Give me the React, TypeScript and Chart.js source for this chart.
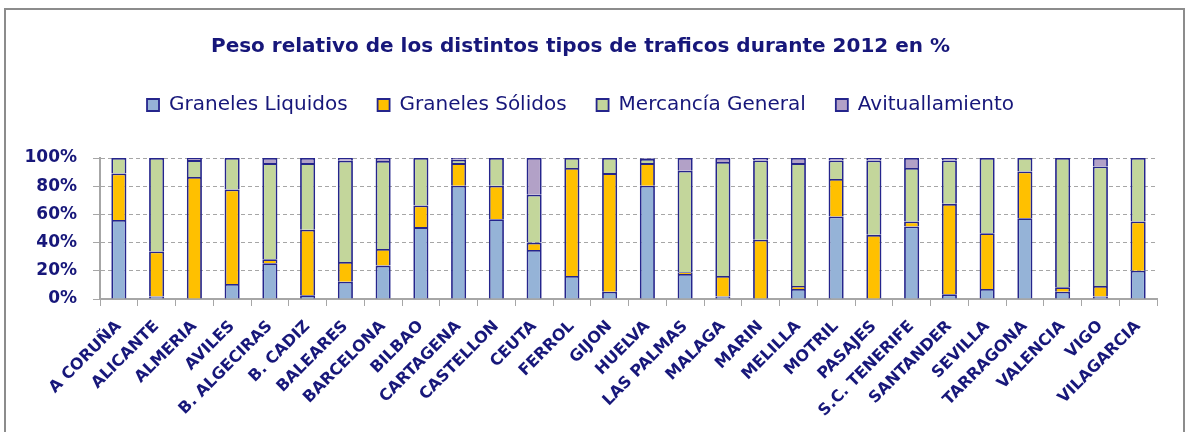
import React, { useEffect, useRef } from 'react';
import { Chart, registerables } from 'chart.js';

Chart.register(...registerables);

const categories = [
  'A CORUÑA', 'ALICANTE', 'ALMERIA', 'AVILES', 'B. ALGECIRAS', 'B. CADIZ', 'BALEARES',
  'BARCELONA', 'BILBAO', 'CARTAGENA', 'CASTELLON', 'CEUTA', 'FERROL', 'GIJON', 'HUELVA',
  'LAS PALMAS', 'MALAGA', 'MARIN', 'MELILLA', 'MOTRIL', 'PASAJES', 'S.C. TENERIFE',
  'SANTANDER', 'SEVILLA', 'TARRAGONA', 'VALENCIA', 'VIGO', 'VILAGARCIA',
];

const granelesLiquidos = [
  56, 1.7, 0, 10.7, 25.4, 2.6, 12.3, 23.7, 51, 80.3, 56.6, 34.8, 16.4, 5.2, 80.3,
  17.8, 1.7, 0, 7.1, 58.5, 0, 51.4, 3.3, 7.1, 57.3, 5.2, 1.7, 20.1,
];
const granelesSolidos = [
  33, 32, 86.5, 67, 2.8, 46.5, 14, 11.8, 15.4, 16.1, 23.7, 5.2, 76.5, 84.1, 16.1,
  1.2, 14.7, 42, 2.1, 26.6, 45.5, 3.6, 64.2, 39.6, 33.2, 3.1, 7.5, 34.9,
];
const mercanciaGeneral = [
  11, 66.3, 12, 22.3, 68.2, 47.3, 71.8, 62.4, 33.6, 2.4, 19.7, 33.9, 7.1, 10.7, 3.0,
  72, 80.8, 56.3, 87.2, 13.2, 52.8, 37.9, 30.8, 53.3, 9.5, 91.7, 84.8, 45,
];
const avituallamiento = [
  0, 0, 1.5, 0, 3.6, 3.6, 1.9, 2.1, 0, 1.2, 0, 26.1, 0, 0, 0.6,
  9, 2.8, 1.7, 3.6, 1.7, 1.7, 7.1, 1.7, 0, 0, 0, 6, 0,
];

const yTicks = [0, 20, 40, 60, 80, 100];

const NAVY = '#17177A';
const BAR_BORDER = '#25258C';
const GRID = '#A6A6A6';

export default function App() {
  const ref = useRef<HTMLCanvasElement>(null);

  useEffect(() => {
    document.body.style.margin = '0';
    const canvas = ref.current;
    if (!canvas) return;

    const frame = {
      id: 'frame',
      beforeDraw(chart: any) {
        const { ctx, width, height } = chart;
        ctx.save();
        ctx.fillStyle = '#ffffff';
        ctx.fillRect(0, 0, width, height);
        ctx.strokeStyle = '#8C8C8C';
        ctx.lineWidth = 2;
        ctx.strokeRect(5, 9, 1179, height + 20);
        ctx.restore();
      },
    };

    const mk = (label: string, data: number[], color: string) => ({
      label,
      data,
      backgroundColor: color,
      borderColor: BAR_BORDER,
      borderWidth: 1.8,
      barPercentage: 0.4,
      categoryPercentage: 1,
    });

    const chart = new Chart(canvas, {
      type: 'bar',
      data: {
        labels: categories,
        datasets: [
          mk('Graneles Liquidos', granelesLiquidos, '#95B3D7'),
          mk('Graneles Sólidos', granelesSolidos, '#FFC000'),
          mk('Mercancía General', mercanciaGeneral, '#C3D69B'),
          mk('Avituallamiento', avituallamiento, '#B2A1C7'),
        ],
      },
      options: {
        responsive: false,
        animation: false,
        devicePixelRatio: 1,
        layout: { padding: { top: 0, left: 4, right: 30, bottom: 0 } },
        plugins: {
          title: {
            display: true,
            text: 'Peso relativo de los distintos tipos de traficos durante 2012 en %',
            color: NAVY,
            font: { family: 'DejaVu Sans', size: 20, weight: 'bold', lineHeight: 1.2 },
            padding: { top: 35, bottom: 6 },
          },
          legend: {
            display: true,
            position: 'top',
            labels: {
              color: NAVY,
              font: { family: 'DejaVu Sans', size: 20 },
              boxWidth: 12,
              boxHeight: 12,
              padding: 30,
            },
          },
          subtitle: {
            display: true,
            text: '',
            weight: 500,
            font: { size: 1, lineHeight: 1 },
            padding: { top: 32, bottom: 0 },
          } as any,
          tooltip: { enabled: false },
        },
        scales: {
          x: {
            stacked: true,
            grid: {
              display: true,
              drawOnChartArea: false,
              drawTicks: true,
              tickLength: 7,
              color: GRID,
              offset: true,
            },
            border: { display: true, color: GRID, width: 2 },
            ticks: {
              color: NAVY,
              font: { family: 'DejaVu Sans', size: 16, weight: 'bold' },
              maxRotation: 45,
              minRotation: 45,
              autoSkip: false,
              padding: 11,
              labelOffset: 0,
            },
            afterFit(scale: any) {
              scale.height = 133;
            },
          },
          y: {
            stacked: true,
            min: 0,
            max: 100,
            afterBuildTicks(scale: any) {
              scale.ticks = yTicks.map((v) => ({ value: v }));
            },
            grid: {
              color: GRID,
              lineWidth: 1,
              tickLength: 7,
              tickColor: GRID,
              tickBorderDash: [],
            },
            border: { display: true, color: GRID, width: 2, dash: [4, 3] },
            ticks: {
              color: NAVY,
              font: { family: 'DejaVu Sans', size: 17, weight: 'bold' },
              padding: 16,
              callback: (v: any) => v + '%',
            },
            afterFit(scale: any) {
              scale.width = 96;
            },
          },
        },
      },
      plugins: [frame],
    });

    return () => chart.destroy();
  }, []);

  return (
    <div style={{ width: 1187, height: 432 }}>
      <canvas ref={ref} width={1187} height={432} style={{ display: 'block' }} />
    </div>
  );
}
